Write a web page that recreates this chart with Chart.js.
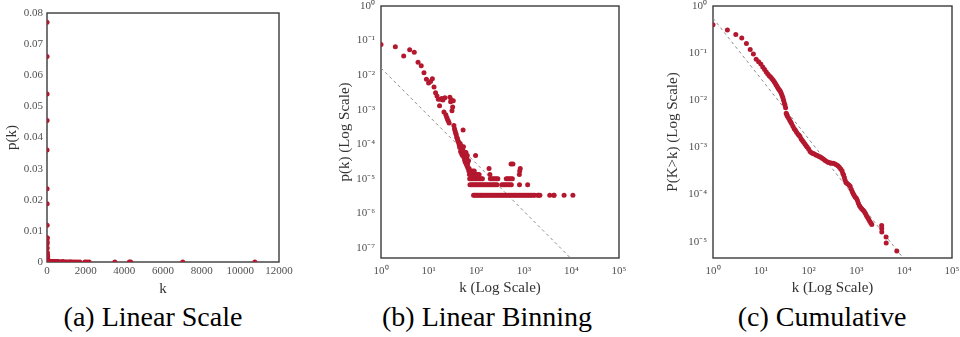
<!DOCTYPE html>
<html>
<head>
<meta charset="utf-8">
<script src="https://cdn.jsdelivr.net/npm/chart.js@4.4.0/dist/chart.umd.min.js"></script>
<style>
  body { margin: 0; background: #fff; }
  .cap { position: absolute; top: 301px; font-family: "Liberation Serif", serif; font-size: 28px;
         line-height: 32px; color: #000; white-space: nowrap; transform: translateX(-50%); }
</style>
</head>
<body>
<canvas id="chartLinear" width="320" height="300" style="position:absolute;top:0;left:0px"></canvas>
<canvas id="chartBinned" width="320" height="300" style="position:absolute;top:0;left:320px"></canvas>
<canvas id="chartCumulative" width="320" height="300" style="position:absolute;top:0;left:640px"></canvas>
<div class="cap" style="left:153px">(a) Linear Scale</div>
<div class="cap" style="left:487px">(b) Linear Binning</div>
<div class="cap" style="left:822px">(c) Cumulative</div>
<script>
// Degree distribution p(k): low degrees, each with its own probability
const headK = [1,2,3,4,5,6,7,8,9,10,11,12,13,14,15,16,17,18,19,20,
  21,22,23,24,25,26,27,28,29,30,31,32,33,34,35,36,37,38,39,40,
  41,42,43,44,45,46,47,48,49,50,51,52,53,54,55,56,57,58,59,60,
  61,62,63,64,65,67,69,97];
const headP = [0.077,0.066,0.036,0.054,0.0455,0.0235,0.0187,0.0118,0.0076,0.0059,
  0.0065,0.0078,0.0045,0.0031,0.0025,0.0020,0.0013,0.0020,0.0021,0.0019,
  0.00085,0.0022,0.00071,0.00060,0.00052,0.00047,0.00041,0.0023,0.0017,0.0019,
  0.00093,0.0012,0.0018,0.00035,0.00028,0.00024,0.00021,0.00019,0.00016,0.00015,
  0.00013,0.00012,0.00011,0.000095,0.000080,0.000105,0.000062,0.000090,0.000055,0.000075,
  0.000048,0.000068,0.00026,0.000085,0.000042,0.000060,0.000035,0.000052,0.000030,0.000045,
  0.000058,0.000027,0.000040,0.000024,0.000047,0.000021,0.000033,0.000047];

// High degrees: only a handful of nodes each, so p(k) sits on a few discrete levels
const tailLevelP = [3.33e-6, 6.67e-6, 1.0e-5, 1.33e-5, 1.67e-5, 2.0e-5, 2.67e-5];
const tailLevelK = [
  [88,93,99,106,114,122,131,141,152,164,177,191,206,222,240,259,279,301,325,350,
   378,407,439,473,510,550,593,640,690,744,802,865,932,1005,1084,1169,1260,1358,1464,1578,
   1700,1960,2060,2180,3510,4260,4330,7020,10750],
  [74,80,85,92,98,105,113,121,130,140,151,163,176,190,205,221,238,256,275,345,
   371,399,430,465,502,548,812,1205],
  [73,78,83,89,96,103,111,119,127,135,198,212,228,246,265,285,428,460,497,535,575],
  [72,79,86,94,101,108,115,194,806],
  [70,77,84,91,820],
  [68,71,186,842],
  [66,540,592]
];

// Complementary cumulative distribution P(K>k)
const cumK = [1,2,3,4,5,6,7,8,9,10,11,12,13,14,15,16,17,18,19,20,
  21,22,23,24,25,26,27,28,29,30,31,32,33,34,35,36,38,40,42,44,
  47,50,53,56,60,63,66,70,74,78,83,88,93,100,107,115,123,132,142,153,
  165,178,192,207,222,240,260,280,300,325,350,380,410,440,470,500,520,540,560,580,
  610,650,700,740,780,820,860,900,950,1000,1050,1100,1160,1220,1290,1370,1450,1530,1620,1700,
  1800,1900,2000,2100,3380,3390,3400,4180,4200,7000];
const cumP = [0.40,0.31,0.25,0.21,0.16,0.12,0.096,0.074,0.066,0.059,
  0.051,0.045,0.040,0.036,0.033,0.031,0.029,0.027,0.025,0.023,
  0.021,0.0195,0.018,0.017,0.0162,0.015,0.0138,0.0125,0.0113,0.0100,
  0.0088,0.0079,0.0069,0.0053,0.0049,0.0046,0.0042,0.0038,0.0035,0.0032,
  0.0028,0.0025,0.0023,0.0021,0.0019,0.0018,0.0017,0.0015,0.0014,0.0013,
  0.0012,0.0011,0.00102,0.00093,0.00082,0.00077,0.00074,0.00072,0.00069,0.00067,
  0.00064,0.00062,0.00059,0.00056,0.00053,0.00050,0.00048,0.00047,0.00046,0.00046,
  0.00045,0.00043,0.00041,0.00038,0.00035,0.00032,0.00028,0.00026,0.00023,0.00020,
  0.00018,0.00017,0.00016,0.00015,0.00013,0.000115,0.000104,0.000095,0.000088,0.000083,
  0.000075,0.000065,0.000058,0.000054,0.000050,0.000047,0.000044,0.000040,0.000036,0.000033,
  0.000030,0.000027,0.000025,0.000023,0.000022,0.000019,0.000016,0.0000126,0.0000094,0.0000063];

// Power-law reference lines (end points)
const fitBinnedK = [1, 10000];
const fitBinnedP = [1.6e-2, 4.8e-8];
const fitCumK = [1, 10000];
const fitCumP = [0.55, 4.2e-6];

// Tick values and labels
const linXTicks = [0, 2000, 4000, 6000, 8000, 10000, 12000];
const linXLabels = ['0', '2000', '4000', '6000', '8000', '10000', '12000'];
const linYTicks = [0, 0.01, 0.02, 0.03, 0.04, 0.05, 0.06, 0.07, 0.08];
const linYLabels = ['0', '0.01', '0.02', '0.03', '0.04', '0.05', '0.06', '0.07', '0.08'];
const logXTicks = [1, 10, 100, 1000, 10000, 100000];
const logXLabels = ['10⁰', '10¹', '10²', '10³', '10⁴', '10⁵'];
const binYTicks = [1, 1e-1, 1e-2, 1e-3, 1e-4, 1e-5, 1e-6, 1e-7];
const binYLabels = ['10⁰', '10⁻¹', '10⁻²', '10⁻³', '10⁻⁴', '10⁻⁵', '10⁻⁶', '10⁻⁷'];
const cumYTicks = [1, 1e-1, 1e-2, 1e-3, 1e-4, 1e-5];
const cumYLabels = ['10⁰', '10⁻¹', '10⁻²', '10⁻³', '10⁻⁴', '10⁻⁵'];

const DOT = '#b3182f';
const SERIF = "'Liberation Serif'";
Chart.defaults.font.family = SERIF;

const pkPoints = headK.map((k, i) => ({ x: k, y: headP[i] }));
tailLevelK.forEach((ks, lvl) => ks.forEach(k => pkPoints.push({ x: k, y: tailLevelP[lvl] })));
const cumPoints = cumK.map((k, i) => ({ x: k, y: cumP[i] }));
const fitBinned = fitBinnedK.map((k, i) => ({ x: k, y: fitBinnedP[i] }));
const fitCum = fitCumK.map((k, i) => ({ x: k, y: fitCumP[i] }));

// Plain rectangular frame around the plotting area
const frame = {
  id: 'frame',
  beforeDatasetsDraw(chart) {
    const { ctx, chartArea: a } = chart;
    ctx.save();
    ctx.strokeStyle = '#3a3a3a';
    ctx.lineWidth = 1.4;
    ctx.strokeRect(a.left, a.top, a.right - a.left, a.bottom - a.top);
    ctx.restore();
  }
};

function axis(o) {
  const horizontal = o.pos === 'bottom';
  return {
    type: o.type, position: o.pos, min: o.min, max: o.max, bounds: 'data',
    grid: { display: false, drawTicks: false },
    border: { display: false },
    ticks: {
      autoSkip: false, maxRotation: 0, padding: o.tickPad, color: '#505050',
      font: { family: SERIF, size: 11 },
      callback: (v, i) => o.labels[i]
    },
    afterBuildTicks: s => { s.ticks = o.ticks.map(v => ({ value: v })); },
    afterFit: s => {
      if (horizontal) { s.height = o.size; s.paddingLeft = 0; s.paddingRight = 0; }
      else { s.width = o.size; s.paddingTop = 0; s.paddingBottom = 0; }
    },
    title: {
      display: true, text: o.title, color: '#333',
      font: { family: SERIF, size: 15 },
      padding: horizontal ? { top: 0, bottom: o.titlePad } : { top: o.titlePad, bottom: 0 }
    }
  };
}

function scatterSet(points) {
  return { data: points, showLine: false, pointRadius: 2.5, pointHoverRadius: 2.5,
           pointBackgroundColor: DOT, pointBorderWidth: 0, order: 0 };
}
function fitSet(points) {
  return { data: points, showLine: true, pointRadius: 0, borderColor: '#8c8c8c',
           borderWidth: 1, borderDash: [3, 3], clip: 0, order: 1 };
}

function makeChart(id, datasets, x, y, pad) {
  return new Chart(document.getElementById(id), {
    type: 'scatter',
    data: { datasets },
    options: {
      responsive: false, animation: false, devicePixelRatio: 1,
      layout: { padding: pad },
      plugins: { legend: { display: false }, tooltip: { enabled: false } },
      scales: { x: axis(x), y: axis(y) }
    },
    plugins: [frame]
  });
}

makeChart('chartLinear', [scatterSet(pkPoints)],
  { type: 'linear', pos: 'bottom', min: 0, max: 12000, ticks: linXTicks, labels: linXLabels,
    size: 38, tickPad: 3, title: 'k', titlePad: 2 },
  { type: 'linear', pos: 'left', min: 0, max: 0.08, ticks: linYTicks, labels: linYLabels,
    size: 47, tickPad: 4, title: 'p(k)', titlePad: 3 },
  { left: 0, right: 41, top: 13, bottom: 0 });

makeChart('chartBinned', [fitSet(fitBinned), scatterSet(pkPoints)],
  { type: 'logarithmic', pos: 'bottom', min: 1, max: 100000, ticks: logXTicks, labels: logXLabels,
    size: 42, tickPad: 7, title: 'k (Log Scale)', titlePad: 3 },
  { type: 'logarithmic', pos: 'left', min: 5.1e-8, max: 1, ticks: binYTicks, labels: binYLabels,
    size: 61, tickPad: 6, title: 'p(k) (Log Scale)', titlePad: 16 },
  { left: 0, right: 21, top: 6, bottom: 0 });

makeChart('chartCumulative', [fitSet(fitCum), scatterSet(cumPoints)],
  { type: 'logarithmic', pos: 'bottom', min: 1, max: 100000, ticks: logXTicks, labels: logXLabels,
    size: 42, tickPad: 7, title: 'k (Log Scale)', titlePad: 3 },
  { type: 'logarithmic', pos: 'left', min: 4.5e-6, max: 1, ticks: cumYTicks, labels: cumYLabels,
    size: 73, tickPad: 6, title: 'P(K>k) (Log Scale)', titlePad: 24 },
  { left: 0, right: 8, top: 6, bottom: 0 });
</script>
</body>
</html>
